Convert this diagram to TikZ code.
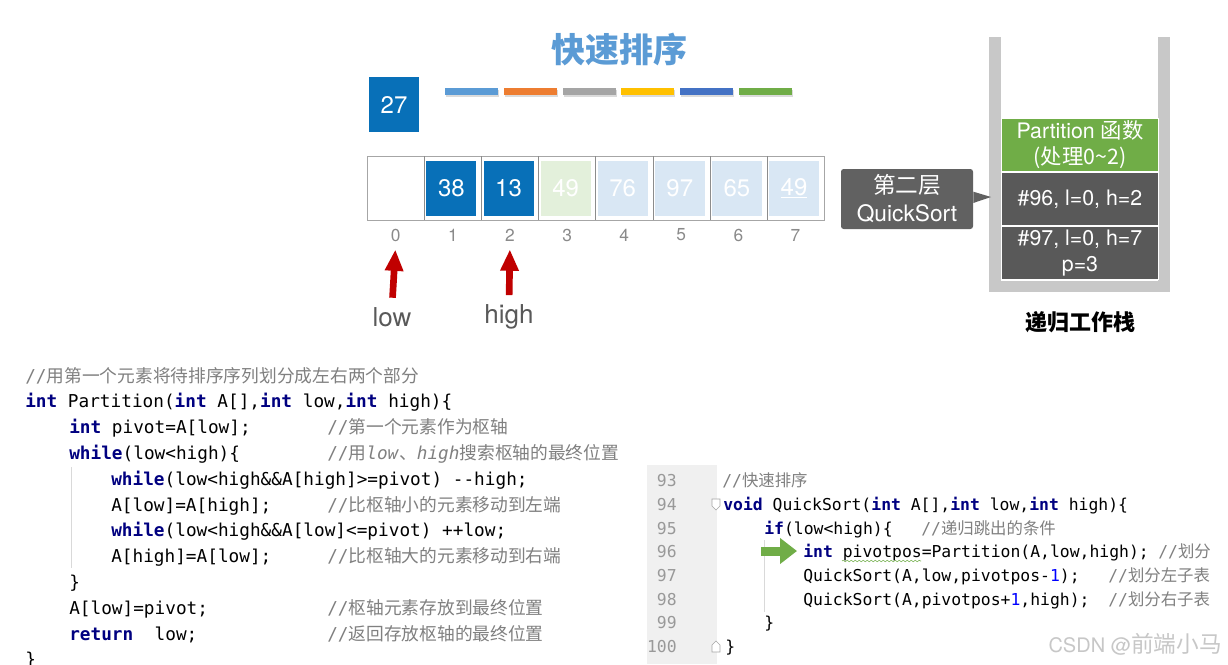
\documentclass[tikz,border=0pt]{standalone}
\usepackage{fontspec}
\usepackage{tikz}
\usetikzlibrary{arrows.meta,positioning,decorations.pathmorphing}
\setmainfont{TeX Gyre Heros}
\setmonofont{DejaVu Sans Mono}
\newfontfamily\cjk{Noto Sans CJK SC}
\definecolor{titleblue} {HTML}{5B9BD5}
\definecolor{cellblue}  {HTML}{0870B8}
\definecolor{paleblue}  {HTML}{D9E7F4}
\definecolor{palegreen} {HTML}{E3F0DB}
\definecolor{darkred}   {HTML}{C00000}
\definecolor{idxgray}   {HTML}{8A8A8A}
\definecolor{wallgray}  {HTML}{C8C8C8}
\definecolor{framegreen}{HTML}{70AD47}
\definecolor{framegray} {HTML}{595959}
\definecolor{kwnavy}    {HTML}{000080}
\definecolor{cmgray}    {HTML}{808080}
\definecolor{numblue}   {HTML}{0000FF}
\definecolor{guttergray}{HTML}{F0F0F0}
\definecolor{barA}{HTML}{5B9BD5}
\definecolor{barB}{HTML}{ED7D31}
\definecolor{barC}{HTML}{A5A5A5}
\definecolor{barD}{HTML}{FFC000}
\definecolor{barE}{HTML}{4472C4}
\definecolor{barF}{HTML}{70AD47}
\newcommand{\zh}[1]{{\cjk #1}}
\newcommand{\kw}[1]{{\bfseries\color{kwnavy}#1}}
\newcommand{\cm}[1]{{\color{cmgray}//#1}}
\newcommand{\nm}[1]{{\color{numblue}#1}}

\begin{document}
\begin{tikzpicture}[x=0.75pt, y=-0.75pt,
  cellbox/.style={minimum width=37.5pt, minimum height=41.25pt, inner sep=0pt,
                  text=white, font=\fontsize{18}{18}\selectfont},
  idx/.style={text=idxgray, font=\fontsize{13}{13}\selectfont, inner sep=0pt},
  ptr/.style={-{Triangle[length=16pt,width=13pt]}, darkred, line width=5pt},
  ptrlab/.style={text=framegray, font=\fontsize{19.5}{20}\selectfont, inner sep=0pt},
  frame/.style={minimum width=117.75pt, minimum height=39.75pt, inner sep=0pt,
                text=white, align=center, draw=white, line width=0.75pt,
                font=\fontsize{16}{19.5}\selectfont},
  codeL/.style={anchor=base west, yshift=-4.6pt, inner sep=0pt,
                font=\ttfamily\fontsize{13.3}{13.3}\selectfont},
  codeR/.style={anchor=base west, yshift=-4.3pt, inner sep=0pt,
                font=\ttfamily\fontsize{12.3}{12.3}\selectfont},
  lnum/.style={anchor=base east, yshift=-4.3pt, inner sep=0pt, text=black!40,
                font=\ttfamily\fontsize{12.3}{12.3}\selectfont}]
  \useasboundingbox[fill=white] (0,0) rectangle (1228,664);

  % title and pivot
  \node[text=titleblue, font=\cjk\bfseries\fontsize{25.5}{26}\selectfont]
        (title) at (619,50) {快速排序};
  \node[cellbox, fill=cellblue] (pivotbox) at (394,104.5) {27};
  \foreach \c [count=\i from 0] in {barA,barB,barC,barD,barE,barF} {
    \fill[black!14] (446+58.8*\i,90) rectangle +(53,7);
    \fill[\c] (445+58.8*\i,88) rectangle +(53,7);
  }

  % array
  \draw[black!35] (367,156) rectangle (824,220);
  \foreach \i in {1,...,7}
    \draw[black!45] (367.3+57.1*\i,156) -- (367.3+57.1*\i,220);
  \foreach \v/\f [count=\i] in {38/cellblue, 13/cellblue, 49/palegreen,
      76/paleblue, 97/paleblue, 65/paleblue, {\underline{49}}/paleblue}
    \node[cellbox, fill=\f] (cell\i) at (394.3+57.1*\i,188.5) {\v};
  \foreach \i in {0,...,7}
    \node[idx] (idx\i) at (395.8+57.1*\i,235) {\i};

  % low / high
  \node[ptrlab] (lowlab)  at (392,317) {low};
  \node[ptrlab] (highlab) at (509,317) {high};
  \draw[ptr, shorten <=7pt, shorten >=6pt] (lowlab.north) -- (idx0.south);
  \draw[ptr, shorten <=7pt, shorten >=6pt] (highlab.north) -- (idx2.south);

  % recursion stack
  \fill[wallgray] (989,37) rectangle (1001,292);
  \fill[wallgray] (1158,37) rectangle (1170,292);
  \fill[wallgray] (1001,281) rectangle (1158,292);
  \node[frame, fill=framegreen] (part) at (1080,145)
        {Partition \zh{函数}\\\zh{(处理0\textasciitilde2)}};
  \node[frame, fill=framegray] (f96) at (1080,199) {\#96, l=0, h=2};
  \node[frame, fill=framegray] (f97) at (1080,253) {\#97, l=0, h=7\\p=3};
  \node[font=\cjk\bfseries\fontsize{16.5}{17}\selectfont]
        (stacklab) at (1080,322) {递归工作栈};

  % callout
  \node[fill=framegray!95!white, rounded corners=2pt, text=white, align=center,
        minimum width=99pt, minimum height=45pt, inner sep=0pt,
        font=\fontsize{17}{21}\selectfont] (layer) at (907,199)
        {\zh{第二层}\\QuickSort};
  \coordinate (tip) at (991,197);
  \fill[framegray!95!white] ([yshift=5.5pt]layer.east) -- (tip)
        -- ([yshift=-3pt]layer.east) -- cycle;

  % Partition code
  \draw[black!15] (71,467) -- (71,568);
  \foreach \i/\x/\txt in {
     0/25/{\cm{\zh{用第一个元素将待排序序列划分成左右两个部分}}},
     1/25/{\kw{int} Partition(\kw{int} A[],\kw{int} low,\kw{int} high)\{},
     2/69/{\kw{int} pivot=A[low];},
     3/69/{\kw{while}(low<high)\{},
     4/111/{\kw{while}(low<high\&\&A[high]>=pivot) -{}-high;},
     5/111/{A[low]=A[high];},
     6/111/{\kw{while}(low<high\&\&A[low]<=pivot) ++low;},
     7/111/{A[high]=A[low];},
     8/69/{\}},
     9/69/{A[low]=pivot;},
     10/69/{\kw{return}\ \ low;},
     11/25/{\}}}
    \node[codeL] (pc\i) at (\x,376+25.8*\i) {\txt};
  \foreach \i/\txt in {
     2/{\zh{第一个元素作为枢轴}},
     3/{\zh{用}\textit{low}\zh{、}\textit{high}\zh{搜索枢轴的最终位置}},
     5/{\zh{比枢轴小的元素移动到左端}},
     7/{\zh{比枢轴大的元素移动到右端}},
     9/{\zh{枢轴元素存放到最终位置}},
     10/{\zh{返回存放枢轴的最终位置}}}
    \node[codeL] (pm\i) at (327,376+25.8*\i) {\cm{\txt}};

  % QuickSort code
  \fill[guttergray] (647,465) rectangle (717,664);
  \foreach \k [count=\i from 0] in {93,...,100}
    \node[lnum] (ln\k) at (677,481+23.7*\i) {\k};
  \draw[black!15] (764,540) -- (764,612);
  \foreach \i/\x/\txt in {
     0/722/{\cm{\zh{快速排序}}},
     1/723/{\kw{void} QuickSort(\kw{int} A[],\kw{int} low,\kw{int} high)\{},
     2/764/{\kw{if}(low<high)\{},
     3/803/{\kw{int} pivotpos=Partition(A,low,high);},
     4/803/{QuickSort(A,low,pivotpos-\nm{1});},
     5/803/{QuickSort(A,pivotpos+\nm{1},high);},
     6/764/{\}},
     7/725/{\}}}
    \node[codeR] (qc\i) at (\x,481+23.7*\i) {\txt};
  \foreach \i/\x/\txt in {
     2/921/{递归跳出的条件},
     3/1158/{划分},
     4/1108/{划分左子表},
     5/1108/{划分右子表}}
    \node[codeR] (qm\i) at (\x,481+23.7*\i) {\cm{\zh{\txt}}};
  \draw[black!35, fill=white, line width=0.4pt]
        (712,499) -- (720,499) -- (720,506) -- (716,510) -- (712,506) -- cycle;
  \draw[black!35, fill=white, line width=0.4pt]
        (712,652) -- (720,652) -- (720,645) -- (716,641) -- (712,645) -- cycle;
  \draw[framegreen, decorate, decoration={snake, amplitude=0.6pt,
        segment length=3pt}] (842,561) -- (921,561);
  \coordinate (gtail) at (761,551);
  \draw[-{Triangle[length=12.75pt,width=18.75pt]}, framegreen, line width=6.75pt,
        shorten >=4.5pt] (gtail) -- (gtail -| qc3.west);

  % watermark
  \node[anchor=east, text=black!22, inner sep=0pt] (mark) at (1222,644)
        {{\fontsize{15}{15}\selectfont CSDN @}{\cjk\fontsize{17}{17}\selectfont 前端小马}};
\end{tikzpicture}
\end{document}
